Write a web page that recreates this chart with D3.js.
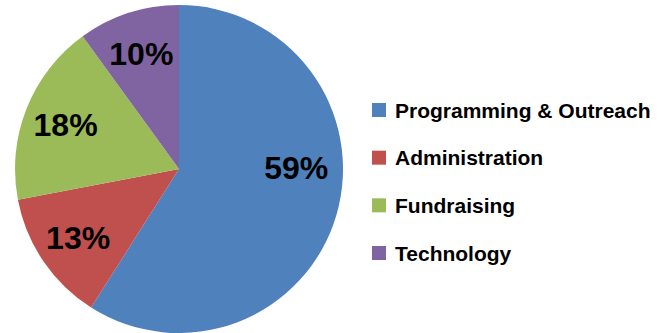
<!DOCTYPE html>
<html>
<head>
<meta charset="utf-8">
<script src="https://cdn.jsdelivr.net/npm/d3@7"></script>
<style>
  body { margin: 0; background: #fff; }
  text { font-family: "Liberation Sans", Arial, Helvetica, sans-serif; font-weight: bold; fill: #000; }
</style>
</head>
<body>
<div id="chart"></div>
<script>
// Budget split.
const categories = ['Programming & Outreach', 'Administration', 'Fundraising', 'Technology']
const shares = [59, 13, 18, 10]
const colors = ['#4f81bd', '#c0504d', '#9bbb59', '#8064a2']

const width = 670,
      height = 333,
      radius = 164,
      cx = 179,
      cy = 169

const svg = d3.select('#chart')
  .append('svg')
    .attr('width', width)
    .attr('height', height)

const data = categories.map((c, i) => ({ name: c, value: shares[i], color: colors[i] }))

const pie = d3.pie()
  .sort(null)
  .value(d => d.value)

const arc = d3.arc()
  .innerRadius(0)
  .outerRadius(radius)

const labelArc = d3.arc()
  .innerRadius(122)
  .outerRadius(122)

const g = svg.append('g')
  .attr('transform', 'translate(' + cx + ',' + cy + ')')

const arcs = pie(data)

// Slices.
g.selectAll('path')
  .data(arcs)
  .enter()
  .append('path')
    .attr('d', arc)
    .attr('fill', d => d.data.color)

// Percentage labels (big slice label sits higher, as in the original).
g.selectAll('text')
  .data(arcs)
  .enter()
  .append('text')
    .attr('transform', d => {
      const p = labelArc.centroid(d)
      if (d.index === 0) p[1] -= 36
      return 'translate(' + p + ')'
    })
    .attr('text-anchor', 'middle')
    .attr('dy', '0.36em')
    .style('font-size', '32px')
    .text(d => d.data.value + '%')

// Legend.
const legendY = d3.scalePoint()
  .domain(categories)
  .range([110, 253])

const legend = svg.append('g')
  .selectAll('g')
  .data(data)
  .enter()
  .append('g')
    .attr('transform', d => 'translate(372,' + legendY(d.name) + ')')

legend.append('rect')
  .attr('x', 0)
  .attr('y', -7)
  .attr('width', 14)
  .attr('height', 14)
  .attr('fill', d => d.color)

legend.append('text')
  .attr('x', 23)
  .attr('dy', '0.36em')
  .style('font-size', '21px')
  .text(d => d.name)
</script>
</body>
</html>
